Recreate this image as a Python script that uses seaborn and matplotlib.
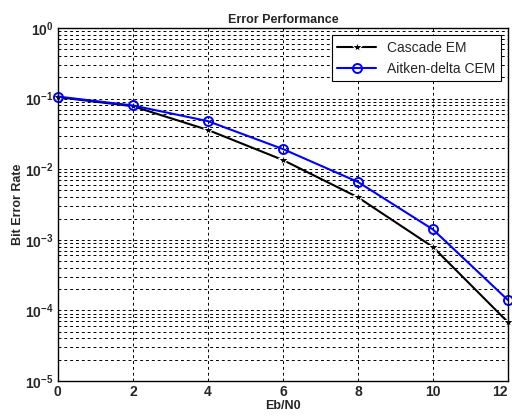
import numpy as np
import pandas as pd
import matplotlib
matplotlib.use("Agg")
import matplotlib.pyplot as plt
import seaborn as sns

ebn0 = [0, 2, 4, 6, 8, 10, 12]
ber_cascade = [0.105, 0.078, 0.036, 0.0135, 0.0040, 0.00079, 6.8e-5]
ber_aitken = [0.107, 0.080, 0.048, 0.0193, 0.0066, 0.0014, 1.4e-4]
series = ["Cascade EM", "Aitken-delta CEM"]

sns.set_style("white")
plt.rcParams['font.family'] = ['Liberation Sans', 'DejaVu Sans']
plt.rcParams['mathtext.fontset'] = 'custom'
plt.rcParams['mathtext.rm'] = 'Liberation Sans:bold'
plt.rcParams['mathtext.bf'] = 'Liberation Sans:bold'

df_c = pd.DataFrame({"Eb/N0": ebn0, "BER": ber_cascade})
df_a = pd.DataFrame({"Eb/N0": ebn0, "BER": ber_aitken})

fig = plt.figure(figsize=(5.12, 4.19), dpi=100)
ax = fig.add_axes([0.113, 0.091, 0.879, 0.842])

sns.lineplot(data=df_c, x="Eb/N0", y="BER", color="black", marker="*",
             markersize=8, linewidth=1.5, label=series[0], ax=ax, clip_on=False)
sns.lineplot(data=df_a, x="Eb/N0", y="BER", color="blue", marker="o",
             markersize=6.5, markerfacecolor="none", markeredgecolor="blue",
             markeredgewidth=1.4, linewidth=1.5, label=series[1], ax=ax, clip_on=False)

ax.set_yscale("log")
ax.set_xlim(0, 12)
ax.set_ylim(1e-5, 1)
ax.set_xticks(ebn0)
ax.set_xticklabels([str(v) for v in ebn0], fontweight="bold", fontsize=10)
# keep the last label inside the canvas
ax.get_xticklabels()[-1].set_horizontalalignment("right")
yt = [1e-5, 1e-4, 1e-3, 1e-2, 1e-1, 1]
ax.set_yticks(yt)
ax.set_yticklabels([r"$\mathbf{10^{%d}}$" % int(np.log10(v)) for v in yt], fontsize=10)
ax.grid(True, which="major", color="black", linestyle=(0, (3, 3)), linewidth=0.7)
ax.grid(True, which="minor", axis="y", color="black", linestyle=(0, (3, 3)), linewidth=0.7)
ax.tick_params(which="both", direction="in", length=0, pad=3)
for s in ax.spines.values():
    s.set_color("black")
    s.set_linewidth(1.0)

ax.set_title("Error Performance", fontweight="bold", fontsize=9, pad=4)
ax.set_xlabel("Eb/N0", fontweight="bold", fontsize=9, labelpad=1)
ax.set_ylabel("Bit Error Rate", fontweight="bold", fontsize=9, labelpad=1)

leg = ax.legend(loc="upper right", fancybox=False, framealpha=1, edgecolor="black",
                fontsize=10, borderaxespad=0.5, handlelength=2.8)
leg.get_frame().set_linewidth(0.8)

fig.savefig("out.png", dpi=100)
